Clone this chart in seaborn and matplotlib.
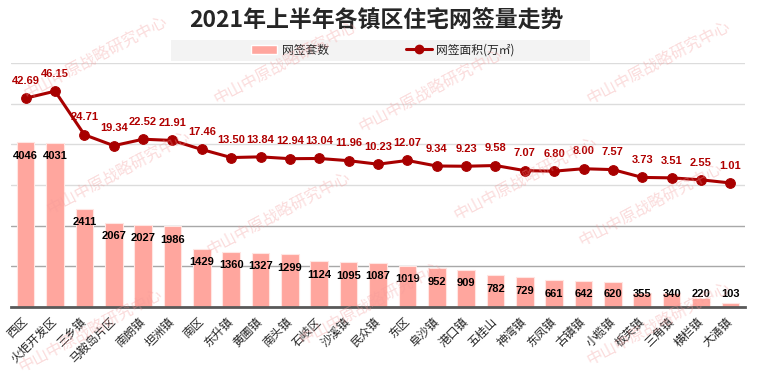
import numpy as np
import pandas as pd
import matplotlib
matplotlib.use("Agg")
import matplotlib.pyplot as plt
from matplotlib.patches import Rectangle, Patch
from matplotlib.lines import Line2D
import seaborn as sns

towns = ["西区", "火炬开发区", "三乡镇", "马鞍岛片区", "南朗镇", "坦洲镇", "南区", "东升镇",
         "黄圃镇", "南头镇", "石岐区", "沙溪镇", "民众镇", "东区", "阜沙镇", "港口镇",
         "五桂山", "神湾镇", "东凤镇", "古镇镇", "小榄镇", "板芙镇", "三角镇", "横栏镇", "大涌镇"]
units = [4046, 4031, 2411, 2067, 2027, 1986, 1429, 1360, 1327, 1299, 1124, 1095, 1087,
         1019, 952, 909, 782, 729, 661, 642, 620, 355, 340, 220, 103]
area = [42.69, 46.15, 24.71, 19.34, 22.52, 21.91, 17.46, 13.50, 13.84, 12.94, 13.04, 11.96,
        10.23, 12.07, 9.34, 9.23, 9.58, 7.07, 6.80, 8.00, 7.57, 3.73, 3.51, 2.55, 1.01]

title = "2021年上半年各镇区住宅网签量走势"
bar_name = "网签套数"
line_name = "网签面积(万㎡)"
watermark = "中山中原战略研究中心"

bar_color = "#ffa69e"
line_color = "#a80000"

sns.set_theme(style="white")
plt.rcParams['font.family'] = ['Noto Sans CJK SC', 'DejaVu Sans']
plt.rcParams['axes.unicode_minus'] = False

df = pd.DataFrame({"town": towns, "units": units, "area": area})
n = len(towns)

fig = plt.figure(figsize=(7.57, 3.78), dpi=100)
ax = fig.add_axes([11 / 757, 1 - 307 / 378, 734 / 757, 244 / 378])

# bars - left axis
sns.barplot(data=df, x="town", y="units", color=bar_color, saturation=1, width=0.6,
            edgecolor="#ffe6e3", linewidth=0.8, ax=ax)
ax.set_xlim(-0.5, n - 0.5)
ax.set_ylim(0, 6000)
ax.set_yticks(range(0, 6001, 1000))
ax.set_yticklabels([])
ax.set_axisbelow(True)
ax.yaxis.grid(True, linewidth=1)
for gl, val in zip(ax.get_ygridlines(), ax.get_yticks()):
    gl.set_color('#a8a8a8' if val <= 2000 else '#dcdcdc')
ax.set_xlabel("")
ax.set_ylabel("")
ax.set_xticks(range(n))
ax.set_xticklabels(towns, rotation=45, ha='right', va='center', rotation_mode='anchor', fontsize=8.5)
ax.tick_params(axis='both', length=0)
ax.tick_params(axis='x', pad=9)
for s in ['top', 'left', 'right']:
    ax.spines[s].set_visible(False)
ax.spines['bottom'].set_color('#595959')
ax.spines['bottom'].set_linewidth(2)

for i, v in enumerate(units):
    ax.text(i, max(v - 330, 320), str(v), ha='center', va='center', fontsize=8,
            fontweight='bold', family='Liberation Sans', color='black')

# line - right axis
ax2 = ax.twinx()
sns.lineplot(x=np.arange(n), y=area, ax=ax2, color=line_color, marker='o', markersize=7,
             linewidth=2.2, markeredgecolor=line_color)
ax2.set_ylim(-60, 60)
ax2.set_yticks([])
ax2.set_ylabel("")
for s in ax2.spines.values():
    s.set_visible(False)
for i, v in enumerate(area):
    ax2.text(i, v + 8.5, f"{v:.2f}", ha='center', va='center', fontsize=8,
             fontweight='bold', family='Liberation Sans', color='#b00000')

# title + legend
fig.text(376 / 757, 1 - 20 / 378, title, ha='center', va='center', fontsize=16.5, fontweight='bold')
fig.add_artist(Rectangle((171 / 757, 1 - 61 / 378), 419 / 757, 21 / 378, transform=fig.transFigure,
                         facecolor='#f3f3f3', edgecolor='none', zorder=0))
handles = [Patch(facecolor=bar_color, label=bar_name),
           Line2D([0], [0], color=line_color, lw=2.2, marker='o', markersize=6, label=line_name)]
fig.legend(handles=handles, loc='center', bbox_to_anchor=(383 / 757, 1 - 50 / 378), ncol=2,
           frameon=False, fontsize=8.5, columnspacing=6.5, handlelength=2.2, handletextpad=0.4)

# watermark
marks = [(95, 57), (285, 62), (430, 90), (658, 62), (118, 172), (278, 213), (525, 178),
         (650, 204), (90, 330), (370, 303), (658, 323)]
for mx, my in marks:
    fig.text(mx / 757, 1 - my / 378, watermark, rotation=28, ha='center', va='center',
             fontsize=11.5, color='#f39a9a', alpha=0.35, zorder=10)

fig.savefig("out.png", dpi=100)
